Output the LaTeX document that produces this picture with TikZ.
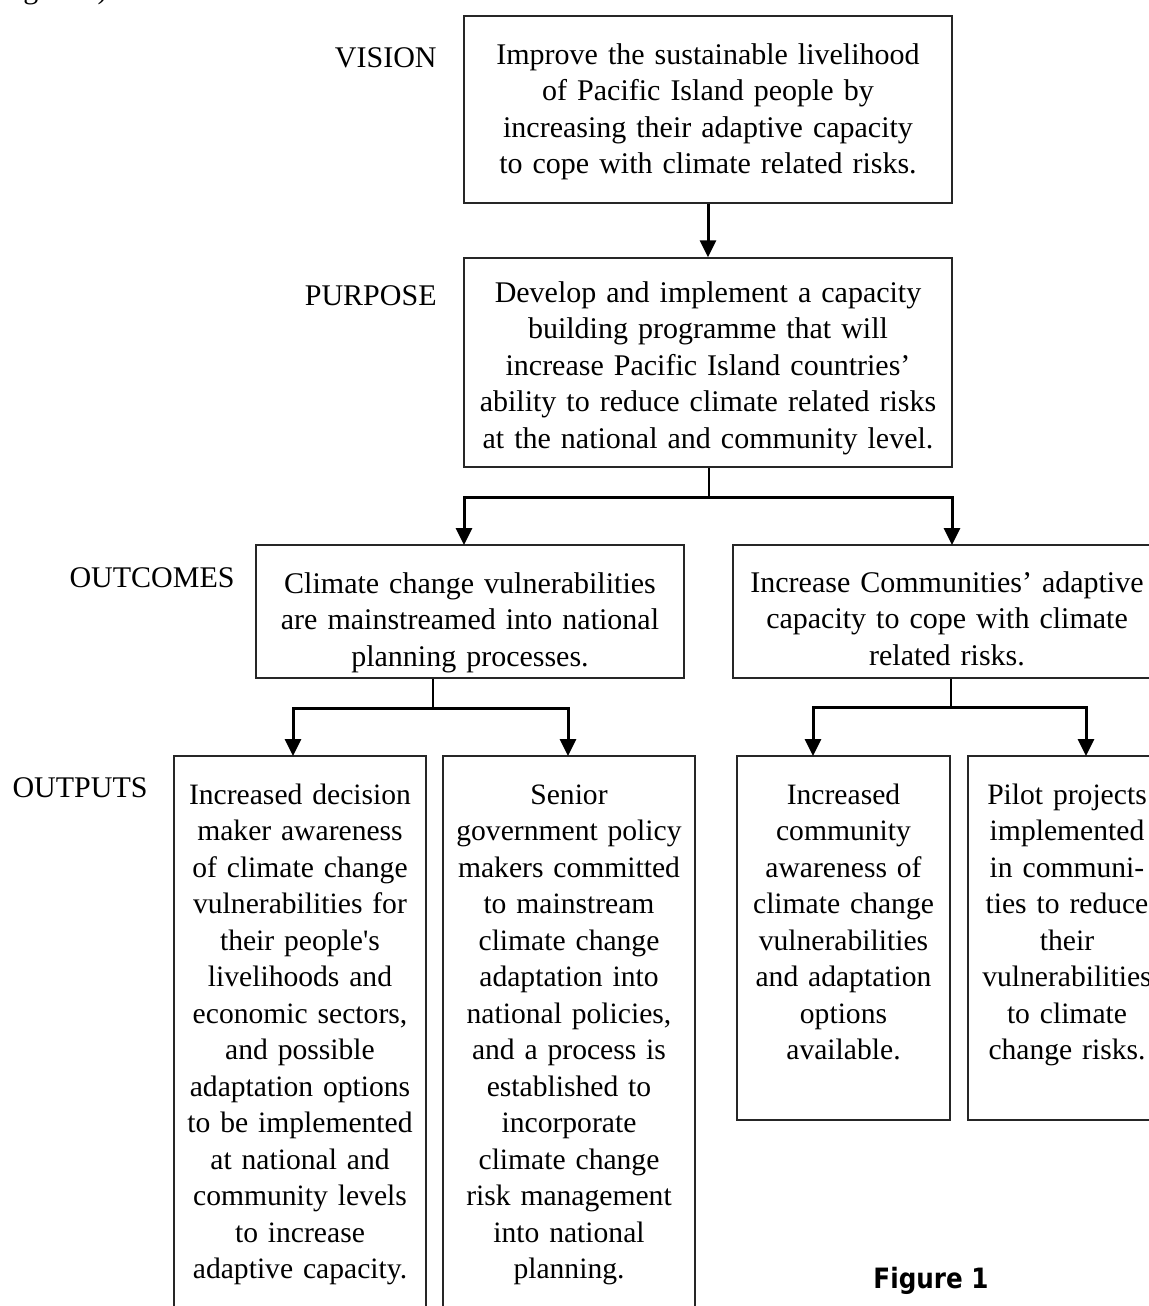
\documentclass[tikz,border=0pt]{standalone}
\usepackage{fontspec}
\setmainfont{Liberation Serif}
\newfontfamily\boxfont{Liberation Serif}[Ligatures=TeX, WordSpace=0.78]
\newfontfamily\figfont{DejaVu Sans}
\usetikzlibrary{arrows.meta}
\tikzset{
  box/.style={draw=black!85, line width=0.75pt, inner sep=0pt},
  txt/.style={anchor=base, inner sep=0pt, align=center, font=\boxfont\fontsize{15}{18.25}\selectfont},
  otxt/.style={anchor=base, inner sep=0pt, align=center, font=\boxfont\fontsize{14.8}{18.25}\selectfont},
  lbl/.style={anchor=base east, inner sep=0pt, font=\fontsize{15}{18}\selectfont},
  arr/.style={line width=1.5pt, -{Triangle[length=8.5pt,width=8pt]}},
  stub/.style={line width=1pt},
}
\begin{document}
\begin{tikzpicture}[x=0.5pt, y=-0.5pt]
\useasboundingbox (0,0) rectangle (1149,1306);
\clip (0,0) rectangle (1149,1306);
\fill[white] (0,0) rectangle (1149,1306);

% cut-off text line above the figure
\node[anchor=base west, inner sep=0pt, font=\fontsize{15}{18}\selectfont] (prev) at (-2,-2) {Figure 1)};

% boxes
\node[box, minimum width=244pt, minimum height=93.5pt] (vis) at (708,109.5) {};
\node[box, minimum width=244pt, minimum height=104.5pt] (pur) at (708,362.5) {};
\node[box, minimum width=214pt, minimum height=66.5pt] (outL) at (470,611.5) {};
\node[box, minimum width=214pt, minimum height=66.5pt] (outR) at (947,611.5) {};
\node[box, minimum width=126pt, minimum height=287pt] (o1) at (300,1043) {};
\node[box, minimum width=126pt, minimum height=287pt] (o2) at (569,1043) {};
\node[box, minimum width=106.5pt, minimum height=182pt] (o3) at (843.5,938) {};
\node[box, minimum width=99pt, minimum height=182pt] (o4) at (1067,938) {};

% labels
\node[lbl] (lvis) at (437,67) {VISION};
\node[lbl] (lpur) at (437,305) {PURPOSE};
\node[lbl] (lout) at (235,587) {OUTCOMES};
\node[lbl] (lput) at (148,797) {OUTPUTS};

% texts
\node[txt, text width=236pt] (visT) at (708,64) {Improve the sustainable livelihood\\of Pacific Island people by\\increasing their adaptive capacity\\to cope with climate related risks.};
\node[txt, text width=236pt] (purT) at (708,302) {Develop and implement a capacity\\building programme that will\\increase Pacific Island countries'\\ability to reduce climate related risks\\at the national and community level.};
\node[txt, text width=210pt] (outLT) at (470,593) {Climate change vulnerabilities\\are mainstreamed into national\\planning processes.};
\node[txt, text width=210pt] (outRT) at (947,592) {Increase Communities' adaptive\\capacity to cope with climate\\related risks.};
\node[otxt, text width=124pt] (o1T) at (300,804) {Increased decision\\maker awareness\\of climate change\\vulnerabilities for\\their people\textquotesingle s\\livelihoods and\\economic sectors,\\and possible\\adaptation options\\to be implemented\\at national and\\community levels\\to increase\\adaptive capacity.};
\node[otxt, text width=124pt] (o2T) at (569,804) {Senior\\government policy\\makers committed\\to mainstream\\climate change\\adaptation into\\national policies,\\and a process is\\established to\\incorporate\\climate change\\risk management\\into national\\planning.};
\node[otxt, text width=104pt] (o3T) at (843.5,804) {Increased\\community\\awareness of\\climate change\\vulnerabilities\\and adaptation\\options\\available.};
\node[otxt, text width=97pt] (o4T) at (1067,804) {Pilot projects\\implemented\\in communi-\\ties to reduce\\their\\vulnerabilities\\to climate\\change risks.};

\node[anchor=base, inner sep=0pt, font=\figfont\bfseries\fontsize{14}{16}\selectfont, xscale=0.88, transform shape] (fig) at (931,1288) {Figure 1};

% junction coordinates
\coordinate (pj) at (709,497);
\coordinate (lj) at (433,708);
\coordinate (rj) at (951,707);
\coordinate (a1) at (293,756);
\coordinate (a2) at (568,756);
\coordinate (a3) at (813,756);
\coordinate (a4) at (1086,756);
\coordinate (b1) at (464,545);
\coordinate (b2) at (952,545);

% connectors
\draw[arr] (vis.south) -- (pur.north);

\draw[stub] (pur.south -| pj) -- (pj);
\draw[arr] (pj) -| (b1);
\draw[arr] (pj) -| (b2);

\draw[stub] (outL.south -| lj) -- (lj);
\draw[arr] (lj) -| (a1);
\draw[arr] (lj) -| (a2);

\draw[stub] (outR.south -| rj) -- (rj);
\draw[arr] (rj) -| (a3);
\draw[arr] (rj) -| (a4);
\end{tikzpicture}
\end{document}
